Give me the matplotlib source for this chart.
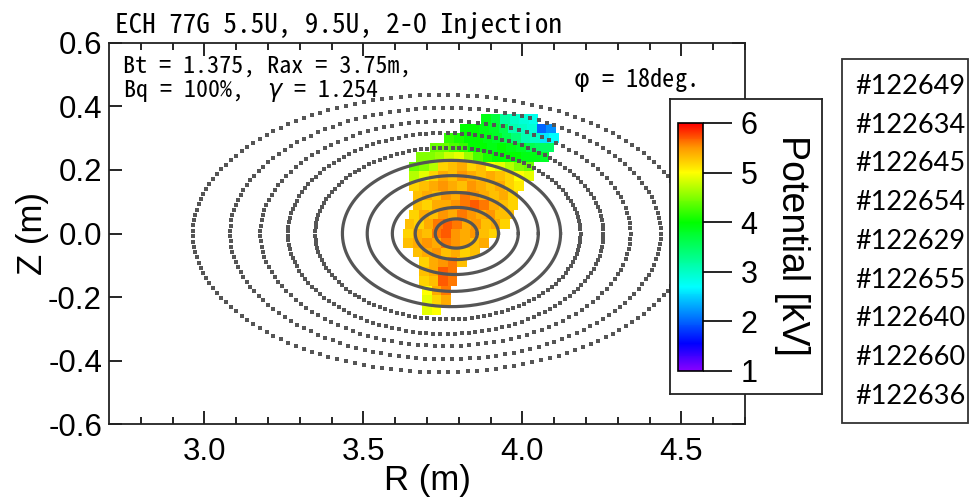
import matplotlib
matplotlib.use('Agg')
import matplotlib.pyplot as plt
import numpy as np
from matplotlib import font_manager
from matplotlib.colors import LinearSegmentedColormap
from matplotlib.patches import Rectangle

# flux surfaces, inner to outer: centre R, half width, half height (m)
surf_rc = [3.792, 3.794, 3.789, 3.781, 3.777, 3.766, 3.759, 3.758, 3.758, 3.745]
surf_a = [0.066, 0.131, 0.198, 0.269, 0.343, 0.417, 0.496, 0.582, 0.677, 0.781]
surf_b = [0.046, 0.082, 0.129, 0.182, 0.230, 0.270, 0.316, 0.354, 0.395, 0.436]
n_solid = 5

# potential map, one row per Z: first R of the row and potentials (kV) at 0.03 m steps
row_z = [0.36, 0.33, 0.30, 0.27, 0.24, 0.21, 0.18, 0.15, 0.12, 0.09, 0.06,
         0.03, 0.00, -0.03, -0.06, -0.09, -0.12, -0.15, -0.18, -0.21, -0.24]
row_r0 = [3.885, 3.82, 3.77, 3.725, 3.68, 3.66, 3.66, 3.66, 3.67, 3.67, 3.66,
          3.645, 3.64, 3.64, 3.67, 3.69, 3.69, 3.69, 3.70, 3.70, 3.70]
row_pot = [
    [3.9, 3.7, 3.2, 3.0, 2.9, 2.8],
    [4.0, 4.0, 3.9, 3.8, 3.6, 3.1, 3.0, 2.9, 2.0, 2.2],
    [4.2, 4.1, 4.0, 4.0, 3.9, 3.8, 3.6, 3.4, 3.1, 3.0, 2.6, 2.7],
    [4.4, 4.4, 4.3, 4.2, 4.0, 4.0, 3.9, 4.0, 3.9, 3.8, 3.6, 3.5, 3.5],
    [4.5, 4.5, 4.6, 4.8, 4.9, 4.6, 4.3, 4.1, 4.0, 4.0, 4.0, 3.9, 3.9, 3.8],
    [4.4, 4.5, 4.7, 5.2, 5.3, 5.4, 5.2, 5.3, 5.0, 4.9, 4.7, 4.5, 4.4],
    [4.7, 4.9, 5.2, 5.4, 5.3, 5.5, 5.4, 5.3, 5.4, 5.3, 5.2, 5.0, 4.9],
    [5.2, 5.3, 5.4, 5.5, 5.4, 5.3, 5.5, 5.4, 5.3, 5.4, 5.2, 5.1],
    [5.3, 5.4, 5.3, 5.5, 5.4, 5.6, 5.5, 5.4, 5.3, 5.4, 5.2],
    [5.3, 5.2, 5.4, 5.4, 5.5, 5.6, 5.7, 5.6, 5.4, 5.3, 5.2],
    [5.2, 5.4, 5.3, 5.5, 5.4, 5.6, 5.5, 5.4, 5.5, 5.3, 5.3],
    [5.3, 5.2, 5.4, 5.6, 5.7, 5.6, 5.4, 5.5, 5.3, 5.4, 5.2],
    [5.2, 5.4, 5.3, 5.6, 5.7, 5.5, 5.4, 5.5, 5.3, 5.2],
    [5.3, 5.4, 5.5, 5.4, 5.6, 5.5, 5.4, 5.3, 5.4],
    [5.3, 5.4, 5.5, 5.3, 5.4, 5.2, 5.3],
    [5.2, 5.4, 5.5, 5.6, 5.3],
    [5.3, 5.4, 5.7, 5.6],
    [5.2, 5.3, 5.7, 5.6],
    [5.0, 5.4, 5.6],
    [4.9, 5.2, 5.4],
    [4.9, 5.0],
]
dr = 0.03

shots = ['#122649', '#122634', '#122645', '#122654', '#122629',
         '#122655', '#122640', '#122660', '#122636']
cbar_ticks = [1, 2, 3, 4, 5, 6]


def pick(*names):
    for n in names:
        try:
            font_manager.findfont(font_manager.FontProperties(family=n), fallback_to_default=False)
            return n
        except ValueError:
            pass
    return 'DejaVu Sans'


arial = pick('Liberation Sans', 'Arimo', 'DejaVu Sans')
gothic = [pick('Noto Sans Mono CJK JP', 'Noto Sans CJK JP', 'DejaVu Sans Mono'), 'DejaVu Sans']
calibri = pick('Lato', 'Open Sans', 'DejaVu Sans')
plt.rcParams['font.family'] = arial
plt.rcParams['mathtext.fontset'] = 'dejavusans'

W, H = 972, 497


def fx(x):
    return x / W


def fy(y):
    return 1 - y / H


cmap = LinearSegmentedColormap.from_list('pot', [
    (0.0, '#8800ff'), (0.11, '#0000ff'), (0.34, '#00ffff'), (0.6, '#00ff00'),
    (0.8, '#ffff00'), (0.9, '#ff9900'), (1.0, '#ff0000')])

fig = plt.figure(figsize=(W / 100, H / 100), dpi=100)
ax = fig.add_axes([fx(109), fy(424.3), fx(745 - 109), (424.3 - 42.7) / H])

# measured potential
pr, pz, pv = [], [], []
for z, r0, vals in zip(row_z, row_r0, row_pot):
    for k, v in enumerate(vals):
        pr.append(r0 + k * dr)
        pz.append(z)
        pv.append(v)
sc = ax.scatter(pr, pz, c=pv, cmap=cmap, vmin=1, vmax=6, marker='s', s=48,
                linewidths=0, zorder=2)

# flux surfaces, solid inside, traced dots outside
dot_step = [0, 0, 0, 0, 0, 0.02, 0.022, 0.027, 0.028, 0.03]
for i in range(len(surf_rc)):
    a, b = surf_a[i], surf_b[i]
    if i < n_solid:
        t = np.linspace(0, 2 * np.pi, 400)
        ax.plot(surf_rc[i] + a * np.cos(t), b * np.sin(t), color='#555555', lw=2.3, zorder=3)
    else:
        n = int(2 * np.pi * a / dot_step[i])
        t = np.linspace(0, 2 * np.pi, n, endpoint=False)
        ax.plot(surf_rc[i] + a * np.cos(t), b * np.sin(t), ls='none', marker='s', ms=2.4,
                mew=0, color='#555555', zorder=3)

ax.set_xlim(2.7, 4.7)
ax.set_ylim(-0.6, 0.6)
ax.set_xticks([3.0, 3.5, 4.0, 4.5])
ax.set_xticks(np.arange(2.8, 4.7, 0.1), minor=True)
ax.set_yticks([-0.6, -0.4, -0.2, 0.0, 0.2, 0.4, 0.6])
ax.xaxis.set_major_formatter(matplotlib.ticker.FormatStrFormatter('%.1f'))
ax.yaxis.set_major_formatter(matplotlib.ticker.FormatStrFormatter('%.1f'))
ax.tick_params(which='both', direction='in', top=True, right=True, width=1.2, labelsize=22.5)
ax.tick_params(which='major', length=9.5)
ax.tick_params(which='minor', length=5)
ax.tick_params(axis='x', pad=9)
ax.tick_params(axis='y', pad=5)
for s in ax.spines.values():
    s.set_linewidth(1.3)
    s.set_color('#222222')
ax.set_xlabel('R (m)', fontsize=25, labelpad=-2)
ax.set_ylabel('Z (m)', fontsize=25, labelpad=-1)

# texts
fig.text(fx(115), fy(33), 'ECH 77G 5.5U, 9.5U, 2-O Injection', family=gothic, fontsize=19.5)
fig.text(fx(123), fy(73), 'Bt = 1.375, Rax = 3.75m,', family=gothic, fontsize=17.3)
fig.text(fx(123), fy(97), 'Bq = 100%,  $\\gamma$ = 1.254', family=gothic, fontsize=17.3)
fig.text(fx(573), fy(87), '$\\mathrm{\\varphi}$ = 18deg.', family=gothic, fontsize=17.5)

# colorbar box
box = fig.add_axes([fx(670), fy(394), fx(822 - 670), (394 - 99) / H], zorder=3)
box.set_xticks([])
box.set_yticks([])
for s in box.spines.values():
    s.set_linewidth(1.3)
    s.set_color('#222222')
cax = fig.add_axes([fx(678), fy(371), fx(703 - 678), (371 - 123) / H], zorder=4)
cb = fig.colorbar(sc, cax=cax, ticks=cbar_ticks)
cb.outline.set_linewidth(1.2)
cax.tick_params(length=21, width=1.2, labelsize=22, pad=6)
fig.text(fx(792), fy(245), 'Potential [kV]', rotation=270, ha='center', va='center',
         fontsize=27, zorder=5)

# shot list
fig.add_artist(Rectangle((fx(842), fy(423)), fx(968 - 842), (423 - 59) / H,
                         transform=fig.transFigure, fill=False, lw=1.3, ec='#333333'))
for k, s in enumerate(shots):
    fig.text(fx(855), fy(94 + 38.7 * k), s, family=calibri, fontsize=19.5)

fig.savefig('out.png', dpi=100)
